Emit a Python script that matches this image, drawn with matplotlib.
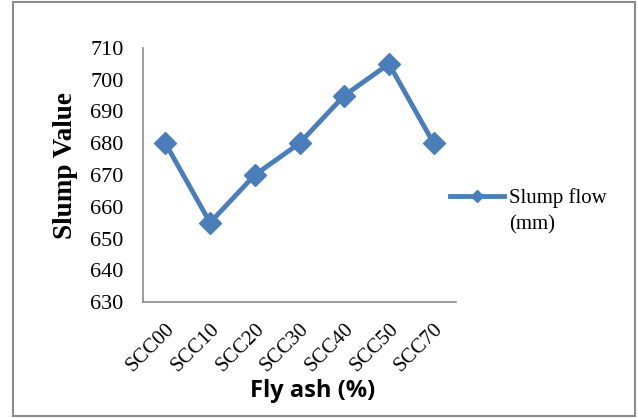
import matplotlib
matplotlib.use('Agg')
import matplotlib.pyplot as plt
from matplotlib.patches import Rectangle

# data
mixes = ['SCC00', 'SCC10', 'SCC20', 'SCC30', 'SCC40', 'SCC50', 'SCC70']
slump = [680, 655, 670, 680, 695, 705, 680]

serif = ['Liberation Serif', 'DejaVu Serif']
blue = '#4A7EBB'

fig = plt.figure(figsize=(6.38, 4.18), dpi=100)
fig.patch.set_facecolor('white')

# outer chart border
fig.patches.append(Rectangle((13 / 638, 2 / 418), 622 / 638, 414 / 418,
                             transform=fig.transFigure, fill=False,
                             edgecolor='#8c8c8c', linewidth=1.5))

ax = fig.add_axes([143 / 638, 116 / 418, 313 / 638, 254 / 418])
x = range(len(mixes))
ax.plot(x, slump, color=blue, linewidth=3.5, marker='D', markersize=11,
        label='Slump flow')

ax.set_xlim(-0.5, len(mixes) - 0.5)
ax.set_ylim(630, 710)
ax.set_yticks(range(630, 711, 10))
ax.set_xticks(list(x))
ax.set_xticklabels(mixes, rotation=45, ha='right', rotation_mode='anchor',
                   family=serif, fontsize=15)
for t in ax.get_yticklabels():
    t.set_family(serif)
    t.set_fontsize(16)
ax.tick_params(length=0)
ax.tick_params(axis='y', pad=14)
ax.tick_params(axis='x', pad=13)

for side in ['top', 'right']:
    ax.spines[side].set_visible(False)
for side in ['left', 'bottom']:
    ax.spines[side].set_color('#8c8c8c')
    ax.spines[side].set_linewidth(1.2)

fig.text(66 / 638, 1 - 166 / 418, 'Slump Value', rotation=90, ha='center',
         va='center', family=serif, fontweight='bold', fontsize=19.5)
fig.text(313 / 638, 1 - 391 / 418, 'Fly ash (%)', ha='center', va='center',
         family=['Open Sans', 'DejaVu Sans'], fontweight='bold', fontsize=17)

# legend: marker line with first text line, second line below it
ax.legend(loc='center left', bbox_to_anchor=(450 / 638, 1 - 198 / 418),
          bbox_transform=fig.transFigure, frameon=False,
          prop={'family': serif, 'size': 15}, handlelength=2.6,
          handletextpad=0.25, markerscale=0.55, borderpad=0, borderaxespad=0)
fig.text(509 / 638, 1 - 225 / 418, '(mm)', ha='left', va='center',
         family=serif, fontsize=15)

plt.savefig('out.png', dpi=100)
